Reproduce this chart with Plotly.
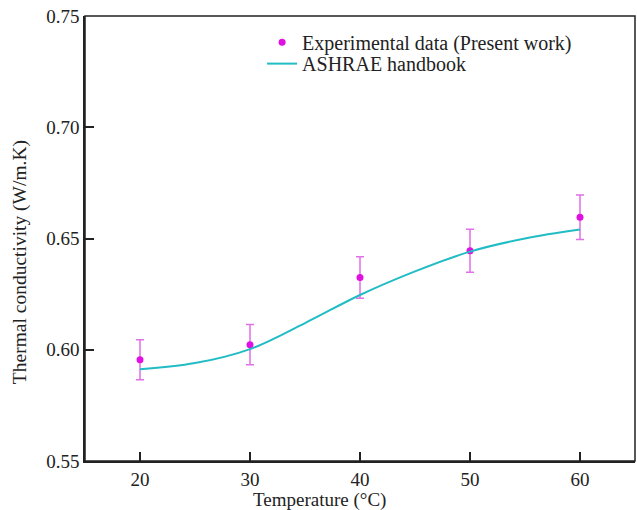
import plotly.graph_objects as go

# Experimental data
temp_exp = [20, 30, 40, 50, 60]
k_exp = [0.5955, 0.6023, 0.6325, 0.6445, 0.6595]
k_err = [0.009, 0.009, 0.0093, 0.0097, 0.010]

# ASHRAE handbook curve
temp_ash = [20, 25, 30, 35, 40, 45, 50, 55, 60]
k_ash = [0.5912, 0.5940, 0.6003, 0.6120, 0.6246, 0.6352, 0.6441, 0.6500, 0.6540]

x_title = "Temperature (°C)"
y_title = "Thermal conductivity (W/m.K)"

FF = "Liberation Serif"

fig = go.Figure()
fig.add_trace(go.Scatter(
    x=temp_exp, y=k_exp, mode="markers",
    name="Experimental data (Present work)",
    marker=dict(color="#E010E0", size=7),
    error_y=dict(type="data", array=k_err, visible=True,
                 color="#E070E8", thickness=1.5, width=4),
    legend="legend",
))
fig.add_trace(go.Scatter(
    x=temp_ash, y=k_ash, mode="lines",
    name="ASHRAE handbook",
    line=dict(color="#22BCC4", width=2, shape="spline"),
    legend="legend2",
))

legend_common = dict(xanchor="left", yanchor="middle", bgcolor="rgba(0,0,0,0)",
                     font=dict(family=FF, size=20, color="#222"), itemwidth=30)

axis_common = dict(automargin=False, tickfont=dict(family=FF, size=19),
                   showline=True, linecolor="#222", linewidth=1.5, mirror=False,
                   ticks="inside", ticklen=9, tickwidth=2, tickcolor="#222",
                   showgrid=False, zeroline=False)

fig.update_layout(
    width=637, height=510,
    margin=dict(l=85, r=2, t=16, b=49),
    paper_bgcolor="white", plot_bgcolor="white",
    font=dict(family=FF, size=19, color="#222"),
    showlegend=True,
    legend=dict(x=0.322, y=0.941, **legend_common),
    legend2=dict(x=0.322, y=0.893, **legend_common),
    xaxis=dict(range=[15, 65], tickmode="linear", tick0=20, dtick=10, **axis_common),
    yaxis=dict(range=[0.55, 0.75], tickmode="linear", tick0=0.55, dtick=0.05,
               tickformat=".2f", **axis_common),
    shapes=[dict(type="rect", xref="paper", yref="paper", x0=0, y0=0, x1=1, y1=1,
                 line=dict(color="#222", width=1.5), fillcolor="rgba(0,0,0,0)",
                 layer="above")],
    annotations=[
        dict(text=x_title, xref="paper", yref="paper", x=0.427, y=-0.0876,
             showarrow=False, xanchor="center", yanchor="middle",
             font=dict(family=FF, size=19, color="#222")),
        dict(text=y_title, xref="paper", yref="paper", x=-0.118, y=0.447,
             showarrow=False, xanchor="center", yanchor="middle", textangle=-90,
             font=dict(family=FF, size=19.5, color="#222")),
    ],
)

fig.write_html("out.html")
